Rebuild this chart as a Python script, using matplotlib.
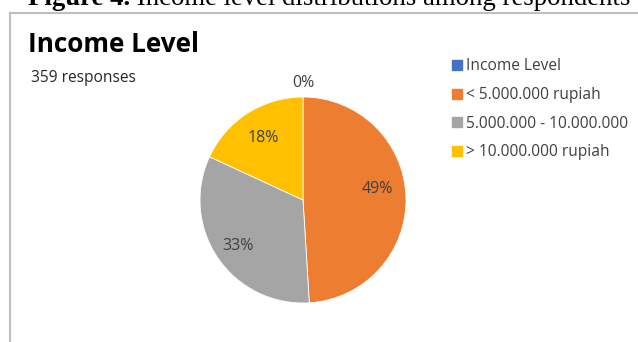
import matplotlib
matplotlib.use("Agg")
import matplotlib.pyplot as plt
from matplotlib.patches import Rectangle
from matplotlib.lines import Line2D

# Survey data: income level of respondents
categories = ["Income Level", "< 5.000.000 rupiah", "5.000.000 - 10.000.000", "> 10.000.000 rupiah"]
counts = [0, 176, 118, 65]
colors = ["#4472C4", "#ED7D31", "#A5A5A5", "#FFC000"]
title = "Income Level"
subtitle = "359 responses"
caption_bold = "Figure 4."
caption_rest = " Income level distributions among respondents"

W, H = 638, 342
fig = plt.figure(figsize=(W / 100, H / 100), dpi=100)
fig.patch.set_facecolor("white")

font = "Open Sans"
label_color = "#404040"

# Chart frame (extends past right and bottom edges)
fig.add_artist(Rectangle((10 / W, -0.1), 1.2, 1.1 - 13 / H,
                         transform=fig.transFigure, fill=False,
                         edgecolor="#BFBFBF", linewidth=1.5))

# Caption above the frame, partially cut off at the top
renderer = fig.canvas.get_renderer()
cap_y = 1 - 5 / H
t1 = fig.text(28 / W, cap_y, caption_bold, family="Liberation Serif", weight="bold",
              fontsize=19.3, va="baseline", ha="left", color="black")
bb = t1.get_window_extent(renderer)
fig.text(bb.x1 / W, cap_y, caption_rest, family="Liberation Serif",
         fontsize=19.3, va="baseline", ha="left", color="black")

# Title and subtitle
fig.text(28 / W, 1 - 45 / H, title, family=font, weight="bold", fontsize=18.8,
         va="center", ha="left", color="black")
fig.text(31 / W, 1 - 78 / H, subtitle, family=font, fontsize=11.2,
         va="center", ha="left", color="#262626")

# Pie
cx, cy, r = 303, 200, 103
ax = fig.add_axes([(cx - r) / W, (H - cy - r) / H, 2 * r / W, 2 * r / H])
wedges, texts, autotexts = ax.pie(
    counts, colors=colors, startangle=90, counterclock=False, radius=1,
    autopct=lambda p: f"{p:.0f}%", pctdistance=0.72,
    wedgeprops=dict(edgecolor="white", linewidth=0.6),
    textprops=dict(family=font, fontsize=11.5, color=label_color))
# Zero-size slice label sits just outside the pie rim
autotexts[0].set_position((0, 1.14))
x1, y1 = autotexts[1].get_position()
autotexts[1].set_position((x1, y1 + 0.08))
x2, y2 = autotexts[2].get_position()
autotexts[2].set_position((x2 - 0.04, y2 - 0.04))
ax.set_xlim(-1, 1)
ax.set_ylim(-1, 1)
ax.set_aspect("equal")
ax.axis("off")

# Legend
handles = [Line2D([], [], marker="s", linestyle="none", markersize=7.5,
                  markerfacecolor=c, markeredgecolor=c) for c in colors]
fig.legend(handles, categories, loc="upper left", bbox_to_anchor=(443 / W, 1 - 52 / H),
           frameon=False, prop=dict(family=font, size=11.2), labelcolor="#404040",
           handletextpad=0.05, handlelength=1.0, labelspacing=0.82, borderaxespad=0)

fig.savefig("out.png", dpi=100)
